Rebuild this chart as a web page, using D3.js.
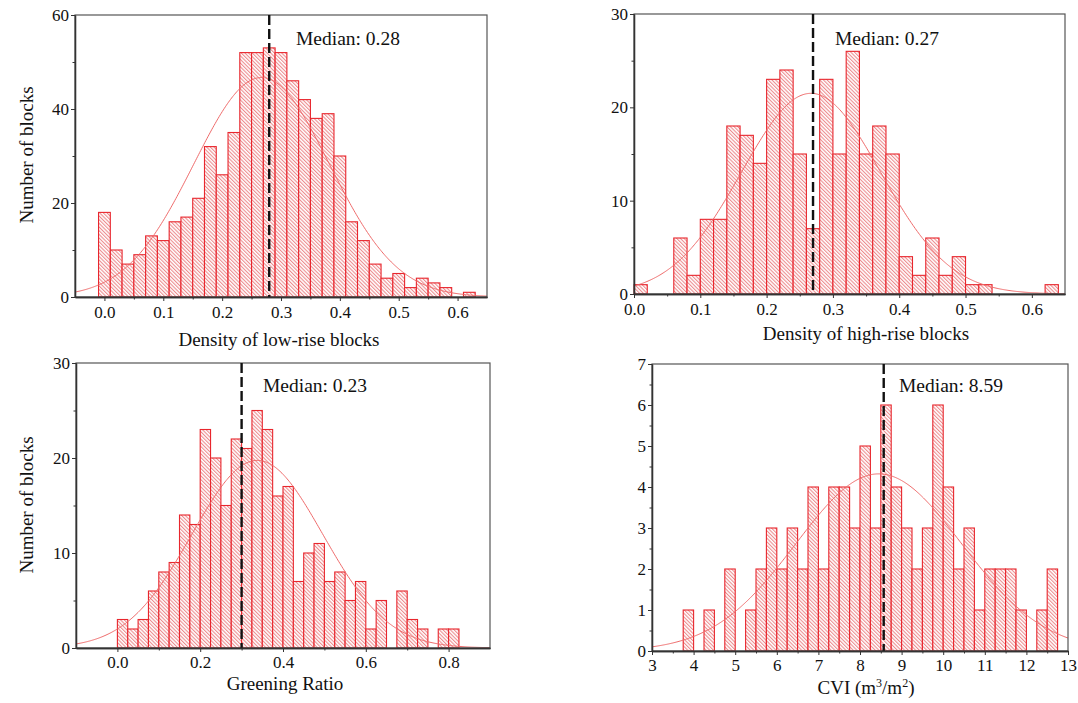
<!DOCTYPE html>
<html><head><meta charset="utf-8">
<script src="https://cdn.jsdelivr.net/npm/d3@7"></script>
<style>
body{margin:0;background:#fff}
svg{display:block}
text{font-family:"Liberation Serif","Times New Roman",serif;fill:#111}
</style>
</head><body>
<svg id="c" width="1078" height="703"></svg>
<script>
// ---------------- DATA ----------------
// Panel A: density of low-rise blocks
const lowRiseBinStart = -0.01, lowRiseBinWidth = 0.02;
const lowRiseCounts = [18,10,7,9,13,12,16,17,21,32,26,35,52,52,53,52,46,42,38,39,30,16,12,7,4,5,2,4,3,2,0,1];
const lowRiseFit = [0.267, 0.115, 46.7];          // mean, sd, peak height
const lowRiseMedianLine = 0.28;
const lowRiseMedianText = "Median: 0.28";
const lowRiseXTicks = [0.0,0.1,0.2,0.3,0.4,0.5,0.6];
const lowRiseXMinor = [0.05,0.15,0.25,0.35,0.45,0.55];
const lowRiseYTicks = [0,20,40,60];
const lowRiseYMinor = [10,30,50];

// Panel B: density of high-rise blocks
const highRiseBinStart = 0.0, highRiseBinWidth = 0.02;
const highRiseCounts = [1,0,0,6,2,8,8,18,17,14,23,24,15,7,23,15,26,15,18,15,4,2,6,2,4,1,1,0,0,0,0,1];
const highRiseFit = [0.267, 0.105, 21.5];
const highRiseMedianLine = 0.27;
const highRiseMedianText = "Median: 0.27";
const highRiseXTicks = [0.0,0.1,0.2,0.3,0.4,0.5,0.6];
const highRiseXMinor = [0.05,0.15,0.25,0.35,0.45,0.55];
const highRiseYTicks = [0,10,20,30];
const highRiseYMinor = [5,15,25];

// Panel C: greening ratio
const greenBinStart = 0.0, greenBinWidth = 0.025;
const greenCounts = [3,2,3,6,8,9,14,13,23,20,15,22,21,25,23,16,17,7,10,11,7,8,5,7,2,5,0,6,3,2,0,2,2];
const greenFit = [0.338, 0.158, 19.75];
const greenMedianLine = 0.30;
const greenMedianText = "Median: 0.23";
const greenXTicks = [0.0,0.2,0.4,0.6,0.8];
const greenXMinor = [0.1,0.3,0.5,0.7];
const greenYTicks = [0,10,20,30];
const greenYMinor = [5,15,25];

// Panel D: CVI
const cviBinStart = 3.75, cviBinWidth = 0.25;
const cviCounts = [1,0,1,0,2,0,1,2,3,2,3,2,4,2,4,4,3,5,3,6,4,3,2,3,6,4,2,3,1,2,2,2,1,0,1,2];
const cviFit = [8.45, 1.99, 4.32];
const cviMedianLine = 8.57;
const cviMedianText = "Median: 8.59";
const cviXTicks = [3,4,5,6,7,8,9,10,11,12,13];
const cviXMinor = [3.5,4.5,5.5,6.5,7.5,8.5,9.5,10.5,11.5,12.5];
const cviYTicks = [0,1,2,3,4,5,6,7];
const cviYMinor = [0.5,1.5,2.5,3.5,4.5,5.5,6.5];

const yTitle = "Number of blocks";

// ---------------- LAYOUT ----------------
const svg = d3.select("#c");
const defs = svg.append("defs");
const pat = defs.append("pattern").attr("id","hatch")
  .attr("patternUnits","userSpaceOnUse").attr("width",2.6).attr("height",2.6)
  .attr("patternTransform","rotate(-45)");
pat.append("rect").attr("width",2.6).attr("height",2.6).attr("fill","#fff");
pat.append("line").attr("x1",0.6).attr("y1",0).attr("x2",0.6).attr("y2",2.6)
  .attr("stroke","#e4575b").attr("stroke-width",0.75);

const panels = [
  {start:lowRiseBinStart,w:lowRiseBinWidth,counts:lowRiseCounts,fit:lowRiseFit,med:lowRiseMedianLine,medText:lowRiseMedianText,
   xt:lowRiseXTicks,xm:lowRiseXMinor,yt:lowRiseYTicks,ym:lowRiseYMinor,xd:[-0.05,0.65],yd:[0,60],
   L:75,R:487,T:15,B:297,fmt:d3.format(".1f"),medPos:[296,45],pad:5,
   xTitle:"Density of low-rise blocks",xTitlePos:[279,346],yTitlePos:[33,155]},
  {start:highRiseBinStart,w:highRiseBinWidth,counts:highRiseCounts,fit:highRiseFit,med:highRiseMedianLine,medText:highRiseMedianText,
   xt:highRiseXTicks,xm:highRiseXMinor,yt:highRiseYTicks,ym:highRiseYMinor,xd:[0,0.65],yd:[0,30],
   L:634,R:1065,T:14,B:294,fmt:d3.format(".1f"),medPos:[835,45],pad:5,
   xTitle:"Density of high-rise blocks",xTitlePos:[866,340],yTitlePos:null},
  {start:greenBinStart,w:greenBinWidth,counts:greenCounts,fit:greenFit,med:greenMedianLine,medText:greenMedianText,
   xt:greenXTicks,xm:greenXMinor,yt:greenYTicks,ym:greenYMinor,xd:[-0.1,0.9],yd:[0,30],
   L:76,R:490,T:363,B:648,fmt:d3.format(".1f"),medPos:[263,392],pad:4,
   xTitle:"Greening Ratio",xTitlePos:[285,690],yTitlePos:[33,505]},
  {start:cviBinStart,w:cviBinWidth,counts:cviCounts,fit:cviFit,med:cviMedianLine,medText:cviMedianText,
   xt:cviXTicks,xm:cviXMinor,yt:cviYTicks,ym:cviYMinor,xd:[3,13],yd:[0,7],
   L:652,R:1068,T:364,B:651,fmt:d3.format("d"),medPos:[899,392],pad:4,
   xTitle:"CVI",xTitlePos:[866,694],yTitlePos:null}
];

panels.forEach((p,pi)=>{
  const x = d3.scaleLinear().domain(p.xd).range([p.L,p.R]);
  const y = d3.scaleLinear().domain(p.yd).range([p.B,p.T]);
  const g = svg.append("g");
  const clipId = "clip"+pi;
  defs.append("clipPath").attr("id",clipId).append("rect")
    .attr("x",p.L).attr("y",p.T).attr("width",p.R-p.L).attr("height",p.B-p.T);

  const bins = p.counts.map((c,i)=>({x0:p.start+i*p.w,x1:p.start+(i+1)*p.w,c}));
  g.append("g").selectAll("rect").data(bins.filter(b=>b.c>0)).join("rect")
    .attr("x",d=>x(d.x0)).attr("width",d=>x(d.x1)-x(d.x0))
    .attr("y",d=>y(d.c)).attr("height",d=>y(0)-y(d.c))
    .attr("fill","url(#hatch)").attr("stroke","#e8262d").attr("stroke-width",1.1);

  // fitted normal curve
  const [mu,sd,pk] = p.fit;
  const xs = d3.range(0,401).map(i=>p.xd[0]+(p.xd[1]-p.xd[0])*i/400);
  const line = d3.line().x(v=>x(v)).y(v=>y(pk*Math.exp(-((v-mu)*(v-mu))/(2*sd*sd))));
  g.append("path").datum(xs).attr("d",line).attr("fill","none")
    .attr("stroke","#ef6b6b").attr("stroke-width",1).attr("clip-path",`url(#${clipId})`);

  // frame
  g.append("rect").attr("x",p.L).attr("y",p.T).attr("width",p.R-p.L).attr("height",p.B-p.T)
    .attr("fill","none").attr("stroke","#555").attr("stroke-width",1.2);

  // median line
  g.append("line").attr("x1",x(p.med)).attr("x2",x(p.med)).attr("y1",p.T).attr("y2",p.B)
    .attr("stroke","#111").attr("stroke-width",2.4).attr("stroke-dasharray","10,4");

  // axes
  g.append("g").attr("transform",`translate(0,${p.B})`)
    .call(d3.axisBottom(x).tickValues(p.xt).tickFormat(p.fmt).tickSize(4).tickSizeOuter(0).tickPadding(p.pad));
  g.append("g").attr("transform",`translate(0,${p.B})`)
    .call(d3.axisBottom(x).tickValues(p.xm).tickFormat("").tickSize(2.5).tickSizeOuter(0));
  g.append("g").attr("transform",`translate(${p.L},0)`)
    .call(d3.axisLeft(y).tickValues(p.yt).tickFormat(d3.format("d")).tickSize(4).tickSizeOuter(0).tickPadding(2));
  g.append("g").attr("transform",`translate(${p.L},0)`)
    .call(d3.axisLeft(y).tickValues(p.ym).tickFormat("").tickSize(2.5).tickSizeOuter(0));
  g.selectAll(".domain").attr("stroke","#333").attr("stroke-width",1.3);
  g.selectAll(".tick line").attr("stroke","#333").attr("stroke-width",1);
  g.selectAll(".tick text").attr("font-family","Liberation Serif, serif").attr("font-size",17).attr("fill","#111");

  // median text
  g.append("text").attr("x",p.medPos[0]).attr("y",p.medPos[1]).attr("font-size",19.5).text(p.medText);

  // x title
  const xt = g.append("text").attr("x",p.xTitlePos[0]).attr("y",p.xTitlePos[1])
    .attr("text-anchor","middle").attr("font-size",19);
  if (pi===3){
    xt.append("tspan").text("CVI (m");
    xt.append("tspan").attr("font-size",12).attr("dy",-7).text("3");
    xt.append("tspan").attr("dy",7).text("/m");
    xt.append("tspan").attr("font-size",12).attr("dy",-7).text("2");
    xt.append("tspan").attr("dy",7).text(")");
  } else {
    xt.text(p.xTitle);
  }
  if (p.yTitlePos){
    g.append("text").attr("transform",`translate(${p.yTitlePos[0]},${p.yTitlePos[1]}) rotate(-90)`)
      .attr("text-anchor","middle").attr("font-size",19).text(yTitle);
  }
});
</script>
</body></html>
